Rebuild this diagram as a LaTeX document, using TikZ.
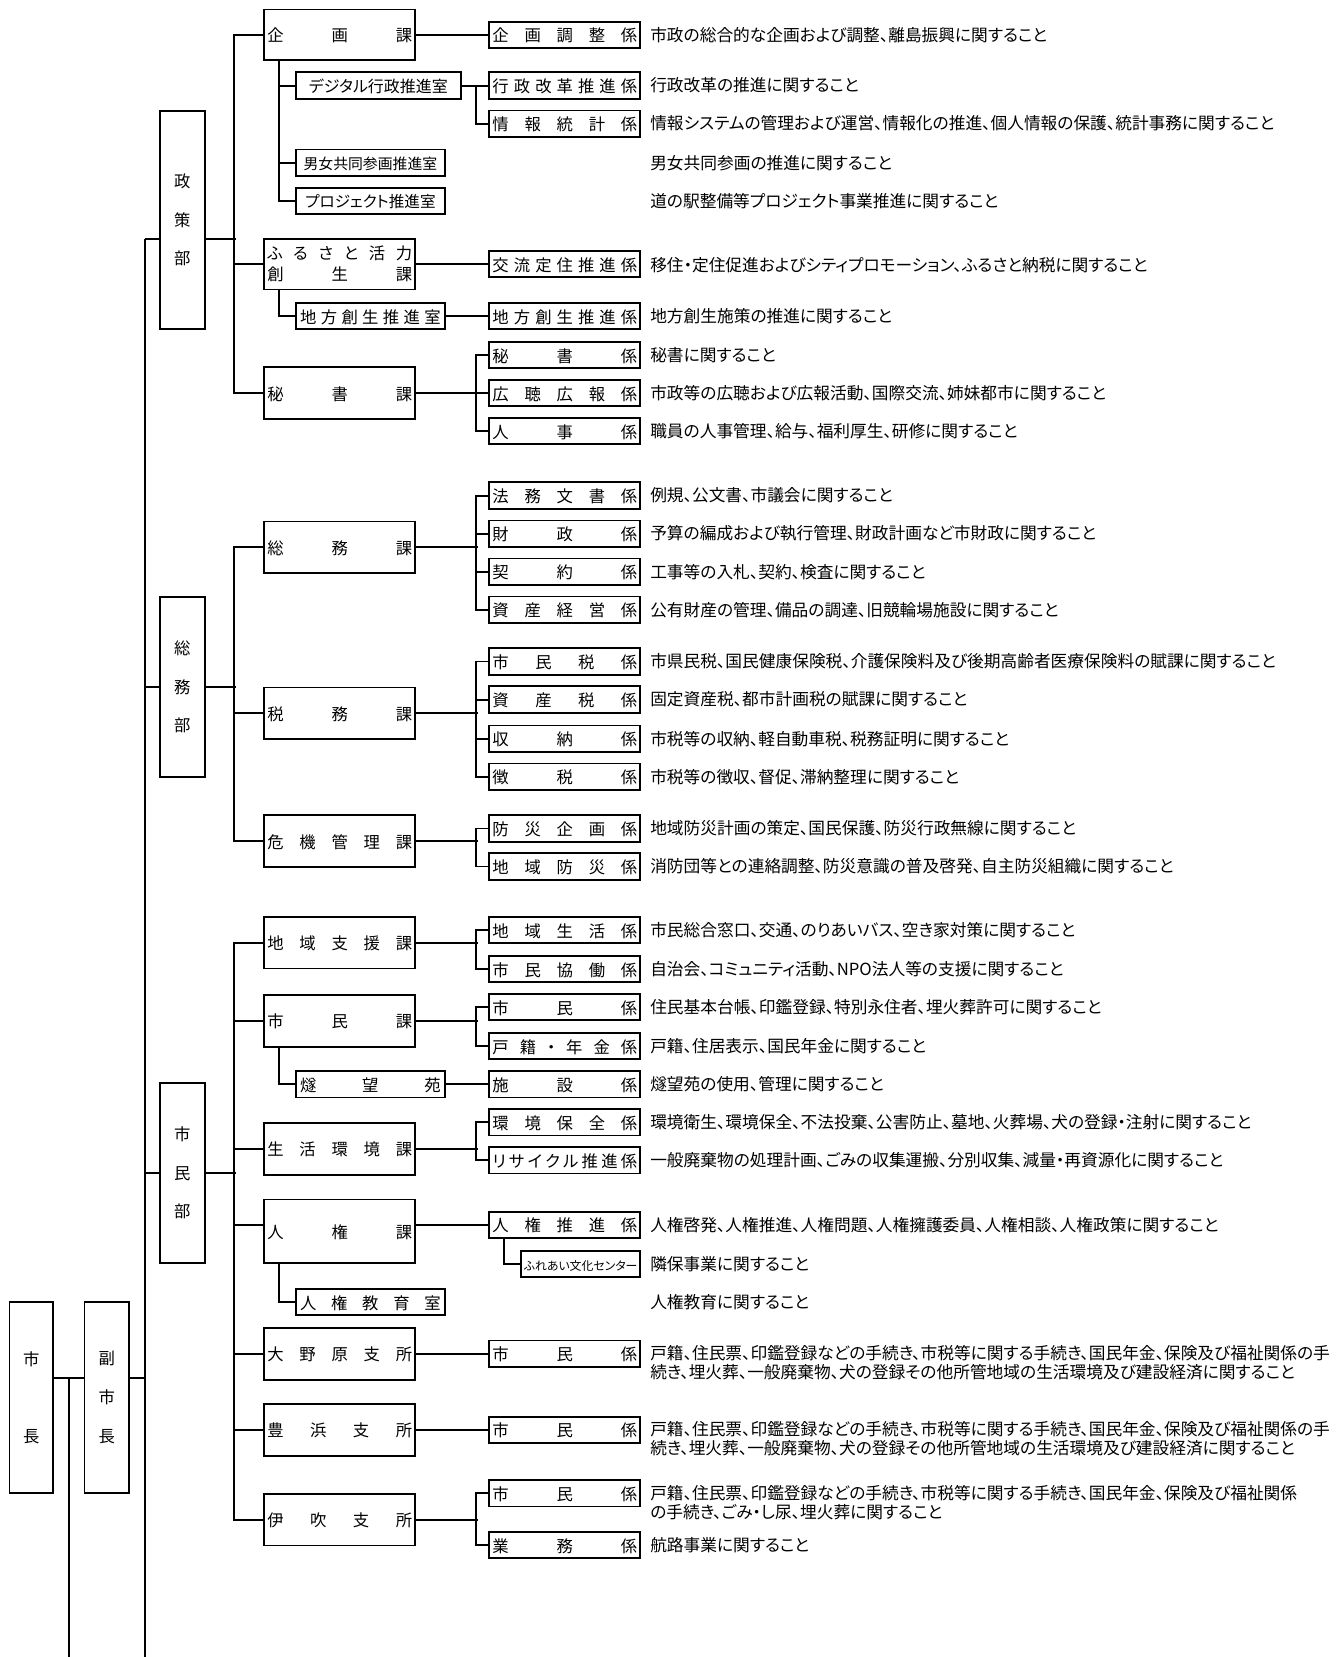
\documentclass[tikz,border=0pt]{standalone}
\usepackage{fontspec}
\newfontfamily\jp{Noto Sans CJK JP}[RawFeature=+palt]
\usetikzlibrary{positioning}

\newcommand{\kw}[1]{\hbox to 2.74cm{#1}}
\newcommand{\sw}[1]{\hbox to 2.66cm{#1}}

\begin{document}
\begin{tikzpicture}[
  x=0.02cm, y=-0.02cm,
  box/.style={draw, line width=1pt, inner sep=0pt, font=\jp\fontsize{8.8pt}{10pt}\selectfont},
  ka/.style={box, minimum width=2.86cm, minimum height=0.98cm, text height=0.88em, text depth=0.12em},
  kakari/.style={box, minimum width=2.86cm, minimum height=0.5cm, text height=0.88em, text depth=0.12em},
  shitsu/.style={box, minimum width=2.82cm, minimum height=0.5cm, text height=0.88em, text depth=0.12em},
  bu/.style={box, minimum width=0.86cm, align=center, font=\jp\fontsize{8.8pt}{20.8pt}\selectfont},
  desc/.style={anchor=west, inner sep=0pt, align=left, font=\jp\fontsize{9pt}{10.2pt}\selectfont},
  ln/.style={line width=1pt}
]
  \useasboundingbox (0,0) rectangle (1264,1568);

  % mayor and deputy
  \node[bu, minimum width=0.82cm, minimum height=3.62cm] (shicho) at (29.5,1322.5) {市\\[20.8pt]長};
  \node[bu, minimum width=0.84cm, minimum height=3.62cm] (fuku) at (101,1322.5) {副\\市\\長};

  % departments
  \node[bu, minimum height=4.12cm] (seisaku) at (172.5,208) {政\\策\\部};
  \node[bu, minimum height=3.4cm] (somu) at (172.5,650) {総\\務\\部};
  \node[bu, minimum height=3.4cm] (shimin) at (172.5,1110) {市\\民\\部};

  % sections
  \node[ka, minimum height=0.96cm] (kikaku) at (321.5,33) {\kw{企\hfill 画\hfill 課}};
  \node[box, minimum width=2.86cm, minimum height=0.96cm, align=center,
        font=\jp\fontsize{8.8pt}{11.4pt}\selectfont] (furusato) at (321.5,250)
        {\kw{ふ\hfill る\hfill さ\hfill と\hfill 活\hfill 力}\\\kw{創\hfill 生\hfill 課}};
  \node[ka] (hishoka) at (321.5,372) {\kw{秘\hfill 書\hfill 課}};
  \node[ka] (somuka) at (321.5,518) {\kw{総\hfill 務\hfill 課}};
  \node[ka] (zeimu) at (321.5,675) {\kw{税\hfill 務\hfill 課}};
  \node[ka] (kiki) at (321.5,796) {\kw{危\hfill 機\hfill 管\hfill 理\hfill 課}};
  \node[ka] (chiiki) at (321.5,892) {\kw{地\hfill 域\hfill 支\hfill 援\hfill 課}};
  \node[ka] (shiminka) at (321.5,966) {\kw{市\hfill 民\hfill 課}};
  \node[ka] (seikatsu) at (321.5,1087) {\kw{生\hfill 活\hfill 環\hfill 境\hfill 課}};
  \node[ka, minimum height=1.2cm] (jinken) at (321.5,1165) {\kw{人\hfill 権\hfill 課}};
  \node[ka] (onohara) at (321.5,1281) {\kw{大\hfill 野\hfill 原\hfill 支\hfill 所}};
  \node[ka] (toyohama) at (321.5,1353) {\kw{豊\hfill 浜\hfill 支\hfill 所}};
  \node[ka] (ibuki) at (321.5,1438) {\kw{伊\hfill 吹\hfill 支\hfill 所}};

  % offices
  \node[shitsu, minimum width=3.12cm, font=\jp\fontsize{8.6pt}{10pt}\selectfont] (digital) at (358,81) {デジタル行政推進室};
  \node[shitsu, font=\jp\fontsize{8pt}{10pt}\selectfont] (danjo) at (350.5,154) {男女共同参画推進室};
  \node[shitsu, font=\jp\fontsize{8.4pt}{10pt}\selectfont] (project) at (350.5,190) {プロジェクト推進室};
  \node[shitsu] (chiho) at (350.5,299) {\sw{地\hfill 方\hfill 創\hfill 生\hfill 推\hfill 進\hfill 室}};
  \node[shitsu] (suibo) at (350.5,1026) {\sw{燧\hfill 望\hfill 苑}};
  \node[shitsu] (kyoiku) at (350.5,1232) {\sw{人\hfill 権\hfill 教\hfill 育\hfill 室}};

  % units
  \node[kakari] (kikakuchosei) at (534.5,33) {\kw{企\hfill 画\hfill 調\hfill 整\hfill 係}};
  \node[kakari] (gyokaku) at (534.5,81) {\kw{行\hfill 政\hfill 改\hfill 革\hfill 推\hfill 進\hfill 係}};
  \node[kakari] (joho) at (534.5,117) {\kw{情\hfill 報\hfill 統\hfill 計\hfill 係}};
  \node[kakari] (koryu) at (534.5,250) {\kw{交\hfill 流\hfill 定\hfill 住\hfill 推\hfill 進\hfill 係}};
  \node[kakari] (chihoka) at (534.5,299) {\kw{地\hfill 方\hfill 創\hfill 生\hfill 推\hfill 進\hfill 係}};
  \node[kakari] (hishokakari) at (534.5,336) {\kw{秘\hfill 書\hfill 係}};
  \node[kakari] (koho) at (534.5,372) {\kw{広\hfill 聴\hfill 広\hfill 報\hfill 係}};
  \node[kakari] (jinji) at (534.5,408) {\kw{人\hfill 事\hfill 係}};
  \node[kakari] (homu) at (534.5,469) {\kw{法\hfill 務\hfill 文\hfill 書\hfill 係}};
  \node[kakari] (zaisei) at (534.5,505) {\kw{財\hfill 政\hfill 係}};
  \node[kakari] (keiyaku) at (534.5,541) {\kw{契\hfill 約\hfill 係}};
  \node[kakari] (shisan) at (534.5,577) {\kw{資\hfill 産\hfill 経\hfill 営\hfill 係}};
  \node[kakari] (shiminzei) at (534.5,626) {\kw{市\hfill 民\hfill 税\hfill 係}};
  \node[kakari] (shisanzei) at (534.5,662) {\kw{資\hfill 産\hfill 税\hfill 係}};
  \node[kakari] (shuno) at (534.5,699) {\kw{収\hfill 納\hfill 係}};
  \node[kakari] (chozei) at (534.5,735) {\kw{徴\hfill 税\hfill 係}};
  \node[kakari] (bosai) at (534.5,784) {\kw{防\hfill 災\hfill 企\hfill 画\hfill 係}};
  \node[kakari] (chiikibosai) at (534.5,820) {\kw{地\hfill 域\hfill 防\hfill 災\hfill 係}};
  \node[kakari] (seikatsuka) at (534.5,880) {\kw{地\hfill 域\hfill 生\hfill 活\hfill 係}};
  \node[kakari] (kyodo) at (534.5,917) {\kw{市\hfill 民\hfill 協\hfill 働\hfill 係}};
  \node[kakari] (shimink) at (534.5,953) {\kw{市\hfill 民\hfill 係}};
  \node[kakari] (koseki) at (534.5,990) {\kw{戸\hfill 籍\hfill ・\hfill 年\hfill 金\hfill 係}};
  \node[kakari] (shisetsu) at (534.5,1026) {\kw{施\hfill 設\hfill 係}};
  \node[kakari] (kankyo) at (534.5,1062) {\kw{環\hfill 境\hfill 保\hfill 全\hfill 係}};
  \node[kakari] (recycle) at (534.5,1098) {\kw{リ\hfill サ\hfill イ\hfill ク\hfill ル\hfill 推\hfill 進\hfill 係}};
  \node[kakari] (jsuishin) at (534.5,1159) {\kw{人\hfill 権\hfill 推\hfill 進\hfill 係}};
  \node[kakari, minimum width=2.26cm, font=\jp\fontsize{6.4pt}{8pt}\selectfont] (fureai) at (549.5,1196) {ふれあい文化センター};
  \node[kakari] (onoshimin) at (534.5,1281) {\kw{市\hfill 民\hfill 係}};
  \node[kakari] (toyoshimin) at (534.5,1353) {\kw{市\hfill 民\hfill 係}};
  \node[kakari] (ibukishimin) at (534.5,1413) {\kw{市\hfill 民\hfill 係}};
  \node[kakari] (gyomu) at (534.5,1462) {\kw{業\hfill 務\hfill 係}};

  % duties
  \node[desc] (d1) at (615,33) {市政の総合的な企画および調整、離島振興に関すること};
  \node[desc] (d2) at (615,81) {行政改革の推進に関すること};
  \node[desc] (d3) at (615,117) {情報システムの管理および運営、情報化の推進、個人情報の保護、統計事務に関すること};
  \node[desc] (d4) at (615,154) {男女共同参画の推進に関すること};
  \node[desc] (d5) at (615,190) {道の駅整備等プロジェクト事業推進に関すること};
  \node[desc] (d6) at (615,251) {移住・定住促進およびシティプロモーション、ふるさと納税に関すること};
  \node[desc] (d7) at (615,299) {地方創生施策の推進に関すること};
  \node[desc] (d8) at (615,336) {秘書に関すること};
  \node[desc] (d9) at (615,372) {市政等の広聴および広報活動、国際交流、姉妹都市に関すること};
  \node[desc] (d10) at (615,408) {職員の人事管理、給与、福利厚生、研修に関すること};
  \node[desc] (d11) at (615,469) {例規、公文書、市議会に関すること};
  \node[desc] (d12) at (615,505) {予算の編成および執行管理、財政計画など市財政に関すること};
  \node[desc] (d13) at (615,541) {工事等の入札、契約、検査に関すること};
  \node[desc] (d14) at (615,577) {公有財産の管理、備品の調達、旧競輪場施設に関すること};
  \node[desc] (d15) at (615,626) {市県民税、国民健康保険税、介護保険料及び後期高齢者医療保険料の賦課に関すること};
  \node[desc] (d16) at (615,662) {固定資産税、都市計画税の賦課に関すること};
  \node[desc] (d17) at (615,699) {市税等の収納、軽自動車税、税務証明に関すること};
  \node[desc] (d18) at (615,735) {市税等の徴収、督促、滞納整理に関すること};
  \node[desc] (d19) at (615,784) {地域防災計画の策定、国民保護、防災行政無線に関すること};
  \node[desc] (d20) at (615,820) {消防団等との連絡調整、防災意識の普及啓発、自主防災組織に関すること};
  \node[desc] (d21) at (615,880) {市民総合窓口、交通、のりあいバス、空き家対策に関すること};
  \node[desc] (d22) at (615,917) {自治会、コミュニティ活動、NPO法人等の支援に関すること};
  \node[desc] (d23) at (615,953) {住民基本台帳、印鑑登録、特別永住者、埋火葬許可に関すること};
  \node[desc] (d24) at (615,990) {戸籍、住居表示、国民年金に関すること};
  \node[desc] (d25) at (615,1026) {燧望苑の使用、管理に関すること};
  \node[desc] (d26) at (615,1062) {環境衛生、環境保全、不法投棄、公害防止、墓地、火葬場、犬の登録・注射に関すること};
  \node[desc] (d27) at (615,1098) {一般廃棄物の処理計画、ごみの収集運搬、分別収集、減量・再資源化に関すること};
  \node[desc] (d28) at (615,1159) {人権啓発、人権推進、人権問題、人権擁護委員、人権相談、人権政策に関すること};
  \node[desc] (d29) at (615,1196) {隣保事業に関すること};
  \node[desc] (d30) at (615,1232) {人権教育に関すること};
  \node[desc] (d31) at (615,1289.5) {戸籍、住民票、印鑑登録などの手続き、市税等に関する手続き、国民年金、保険及び福祉関係の手\\続き、埋火葬、一般廃棄物、犬の登録その他所管地域の生活環境及び建設経済に関すること};
  \node[desc] (d32) at (615,1361.5) {戸籍、住民票、印鑑登録などの手続き、市税等に関する手続き、国民年金、保険及び福祉関係の手\\続き、埋火葬、一般廃棄物、犬の登録その他所管地域の生活環境及び建設経済に関すること};
  \node[desc] (d33) at (615,1421.5) {戸籍、住民票、印鑑登録などの手続き、市税等に関する手続き、国民年金、保険及び福祉関係\\の手続き、ごみ・し尿、埋火葬に関すること};
  \node[desc] (d34) at (615,1462) {航路事業に関すること};

  % trunk lines
  \coordinate (lv) at (0,1304);
  \coordinate (jb) at (65,1568);
  \coordinate (tt) at (137,226);
  \coordinate (tb) at (137,1568);
  \draw[ln] (shicho.east |- lv) -- (fuku.west |- lv);
  \draw[ln] (jb |- lv) -- (jb);
  \draw[ln] (fuku.east |- lv) -- (tt |- lv);
  \draw[ln] (tt) -- (tb);
  \draw[ln] (tt) -- (seisaku.west |- tt);
  \draw[ln] (somu.west) -- (somu.west -| tt);
  \draw[ln] (shimin.west) -- (shimin.west -| tt);

  % departments to sections
  \draw[ln] (seisaku.east |- tt) -- ++(28,0);
  \draw[ln] (kikaku.west) -- ++(-28,0) |- (hishoka.west);
  \draw[ln] (furusato.west) -- ++(-28,0);
  \draw[ln] (somu.east) -- ++(28,0);
  \draw[ln] (somuka.west) -- ++(-28,0) |- (kiki.west);
  \draw[ln] (zeimu.west) -- ++(-28,0);
  \draw[ln] (shimin.east) -- ++(28,0);
  \draw[ln] (chiiki.west) -- ++(-28,0) |- (ibuki.west);
  \foreach \n in {shiminka,seikatsu,onohara,toyohama}
    \draw[ln] (\n.west) -- ++(-28,0);
  \draw[ln] (jinken.west |- jsuishin.west) -- ++(-28,0);

  % sections to units
  \draw[ln] (kikaku.east) -- (kikakuchosei.west);
  \draw[ln] ([xshift=0.3cm]kikaku.south west) |- (project.west);
  \draw[ln] (digital.west) -- ++(-15,0);
  \draw[ln] (danjo.west) -- ++(-15,0);
  \draw[ln] (digital.east) -- (gyokaku.west);
  \draw[ln] (gyokaku.west) -- ++(-12,0) |- (joho.west);
  \draw[ln] (furusato.east) -- (koryu.west);
  \draw[ln] ([xshift=0.3cm]furusato.south west) |- (chiho.west);
  \draw[ln] (chiho.east) -- (chihoka.west);
  \draw[ln] (hishoka.east) -- (koho.west);
  \draw[ln] (hishokakari.west) -- ++(-12,0) |- (jinji.west);

  \draw[ln] (somuka.east) -- ++(58,0);
  \draw[ln] (homu.west) -- ++(-12,0) |- (shisan.west);
  \draw[ln] (zaisei.west) -- ++(-12,0);
  \draw[ln] (keiyaku.west) -- ++(-12,0);
  \draw[ln] (zeimu.east) -- ++(58,0);
  \draw[ln] (shiminzei.west) -- ++(-12,0) |- (chozei.west);
  \draw[ln] (shisanzei.west) -- ++(-12,0);
  \draw[ln] (shuno.west) -- ++(-12,0);
  \draw[ln] (kiki.east) -- ++(58,0);
  \draw[ln] (bosai.west) -- ++(-12,0) |- (chiikibosai.west);

  \draw[ln] (chiiki.east) -- ++(58,0);
  \draw[ln] (seikatsuka.west) -- ++(-12,0) |- (kyodo.west);
  \draw[ln] (shiminka.east) -- ++(58,0);
  \draw[ln] (shimink.west) -- ++(-12,0) |- (koseki.west);
  \draw[ln] ([xshift=0.3cm]shiminka.south west) |- (suibo.west);
  \draw[ln] (suibo.east) -- (shisetsu.west);
  \draw[ln] (seikatsu.east) -- ++(58,0);
  \draw[ln] (kankyo.west) -- ++(-12,0) |- (recycle.west);
  \draw[ln] (jinken.east |- jsuishin.west) -- (jsuishin.west);
  \draw[ln] ([xshift=0.3cm]jsuishin.south west) |- (fureai.west);
  \draw[ln] ([xshift=0.3cm]jinken.south west) |- (kyoiku.west);
  \draw[ln] (onohara.east) -- (onoshimin.west);
  \draw[ln] (toyohama.east) -- (toyoshimin.west);
  \draw[ln] (ibuki.east) -- ++(58,0);
  \draw[ln] (ibukishimin.west) -- ++(-12,0) |- (gyomu.west);
\end{tikzpicture}
\end{document}
